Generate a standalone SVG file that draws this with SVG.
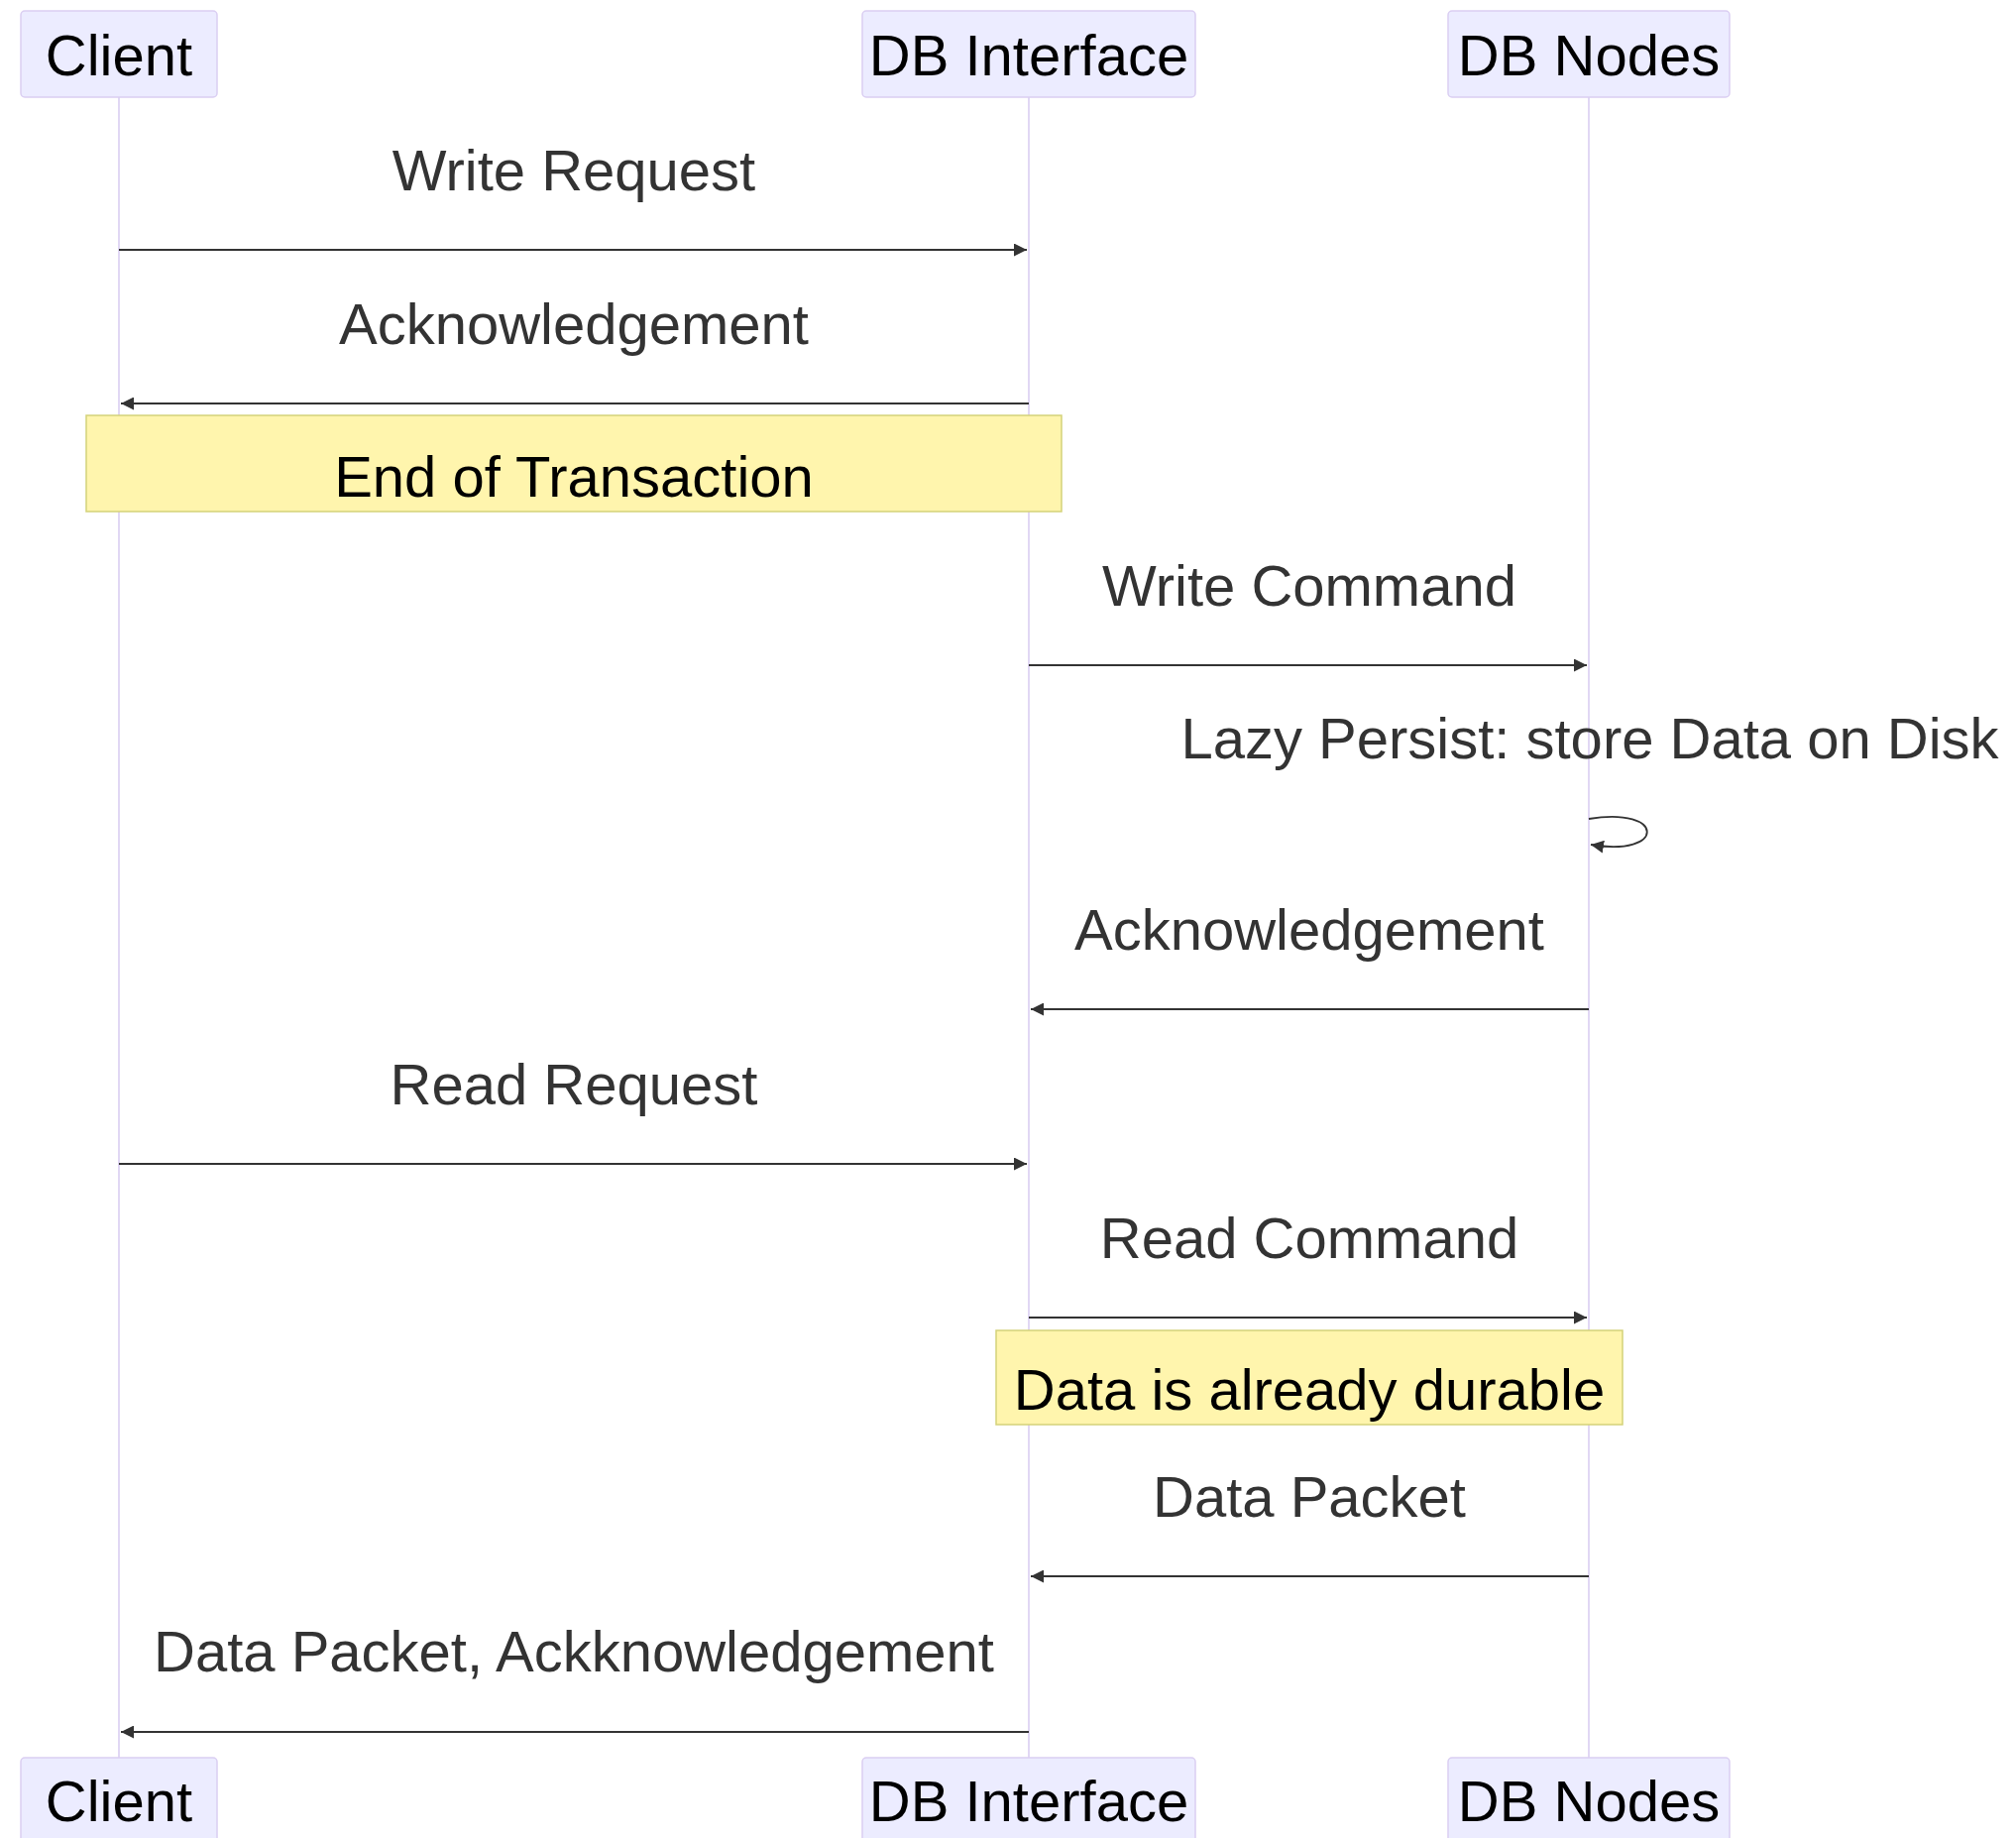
<svg xmlns="http://www.w3.org/2000/svg" width="2034" height="1854" viewBox="0 0 2034 1854">
  <style>
    .actor rect { fill: #ececff; stroke: #dacef2; stroke-width: 1.5; }
    .actor text { font-family: "Liberation Sans", Arial, sans-serif; font-size: 58px; fill: #000; text-anchor: middle; }
    .lifeline { stroke: #dacef2; stroke-width: 1.6; fill: none; }
    .msg { stroke: #333; stroke-width: 2.2; fill: none; }
    .loop { stroke: #333; stroke-width: 1.8; fill: none; }
    .label { font-family: "Liberation Sans", Arial, sans-serif; font-size: 58px; fill: #333; text-anchor: middle; }
    .note rect { fill: #fff5ad; stroke: #d4d27a; stroke-width: 1.5; }
    .note text { font-family: "Liberation Sans", Arial, sans-serif; font-size: 58px; fill: #000; text-anchor: middle; }
  </style>
  <defs>
    <marker id="arrowhead" viewBox="0 0 10 10" refX="10" refY="5" markerUnits="userSpaceOnUse" markerWidth="13" markerHeight="13" orient="auto">
      <path d="M0,0 L10,5 L0,10 z" fill="#333"/>
    </marker>
  </defs>

  <rect width="2034" height="1854" fill="#ffffff"/>

  <!-- lifelines -->
  <g id="lifelines">
    <line class="lifeline" x1="120" y1="98" x2="120" y2="1773"/>
    <line class="lifeline" x1="1038" y1="98" x2="1038" y2="1773"/>
    <line class="lifeline" x1="1603" y1="98" x2="1603" y2="1773"/>
  </g>

  <!-- participants, top row -->
  <g id="client-top" class="actor">
    <rect x="21" y="11" width="198" height="87" rx="4"/>
    <text x="120" y="76">Client</text>
  </g>
  <g id="dbinterface-top" class="actor">
    <rect x="870" y="11" width="336" height="87" rx="4"/>
    <text x="1038" y="76">DB Interface</text>
  </g>
  <g id="dbnodes-top" class="actor">
    <rect x="1461" y="11" width="284" height="87" rx="4"/>
    <text x="1603" y="76">DB Nodes</text>
  </g>

  <!-- participants, bottom row -->
  <g id="client-bottom" class="actor">
    <rect x="21" y="1773" width="198" height="87" rx="4"/>
    <text x="120" y="1837">Client</text>
  </g>
  <g id="dbinterface-bottom" class="actor">
    <rect x="870" y="1773" width="336" height="87" rx="4"/>
    <text x="1038" y="1837">DB Interface</text>
  </g>
  <g id="dbnodes-bottom" class="actor">
    <rect x="1461" y="1773" width="284" height="87" rx="4"/>
    <text x="1603" y="1837">DB Nodes</text>
  </g>

  <!-- notes -->
  <g id="note-end-of-transaction" class="note">
    <rect x="87" y="419" width="984" height="97"/>
    <text x="579" y="501">End of Transaction</text>
  </g>
  <g id="note-durable" class="note">
    <rect x="1005" y="1342" width="632" height="95"/>
    <text x="1321" y="1422">Data is already durable</text>
  </g>

  <!-- messages -->
  <g id="messages">
    <text class="label" x="579" y="192">Write Request</text>
    <line class="msg" x1="120" y1="252" x2="1036" y2="252" marker-end="url(#arrowhead)"/>

    <text class="label" x="579" y="347">Acknowledgement</text>
    <line class="msg" x1="1038" y1="407" x2="122" y2="407" marker-end="url(#arrowhead)"/>

    <text class="label" x="1321" y="611">Write Command</text>
    <line class="msg" x1="1038" y1="671" x2="1601" y2="671" marker-end="url(#arrowhead)"/>

    <text class="label" x="1604" y="765">Lazy Persist: store Data on Disk</text>
    <path class="loop" d="M1603,826 C1681,813 1681,865 1605,852" marker-end="url(#arrowhead)"/>

    <text class="label" x="1321" y="958">Acknowledgement</text>
    <line class="msg" x1="1603" y1="1018" x2="1040" y2="1018" marker-end="url(#arrowhead)"/>

    <text class="label" x="579" y="1114">Read Request</text>
    <line class="msg" x1="120" y1="1174" x2="1036" y2="1174" marker-end="url(#arrowhead)"/>

    <text class="label" x="1321" y="1269">Read Command</text>
    <line class="msg" x1="1038" y1="1329" x2="1601" y2="1329" marker-end="url(#arrowhead)"/>

    <text class="label" x="1321" y="1530">Data Packet</text>
    <line class="msg" x1="1603" y1="1590" x2="1040" y2="1590" marker-end="url(#arrowhead)"/>

    <text class="label" x="579" y="1686">Data Packet, Ackknowledgement</text>
    <line class="msg" x1="1038" y1="1747" x2="122" y2="1747" marker-end="url(#arrowhead)"/>
  </g>
</svg>
